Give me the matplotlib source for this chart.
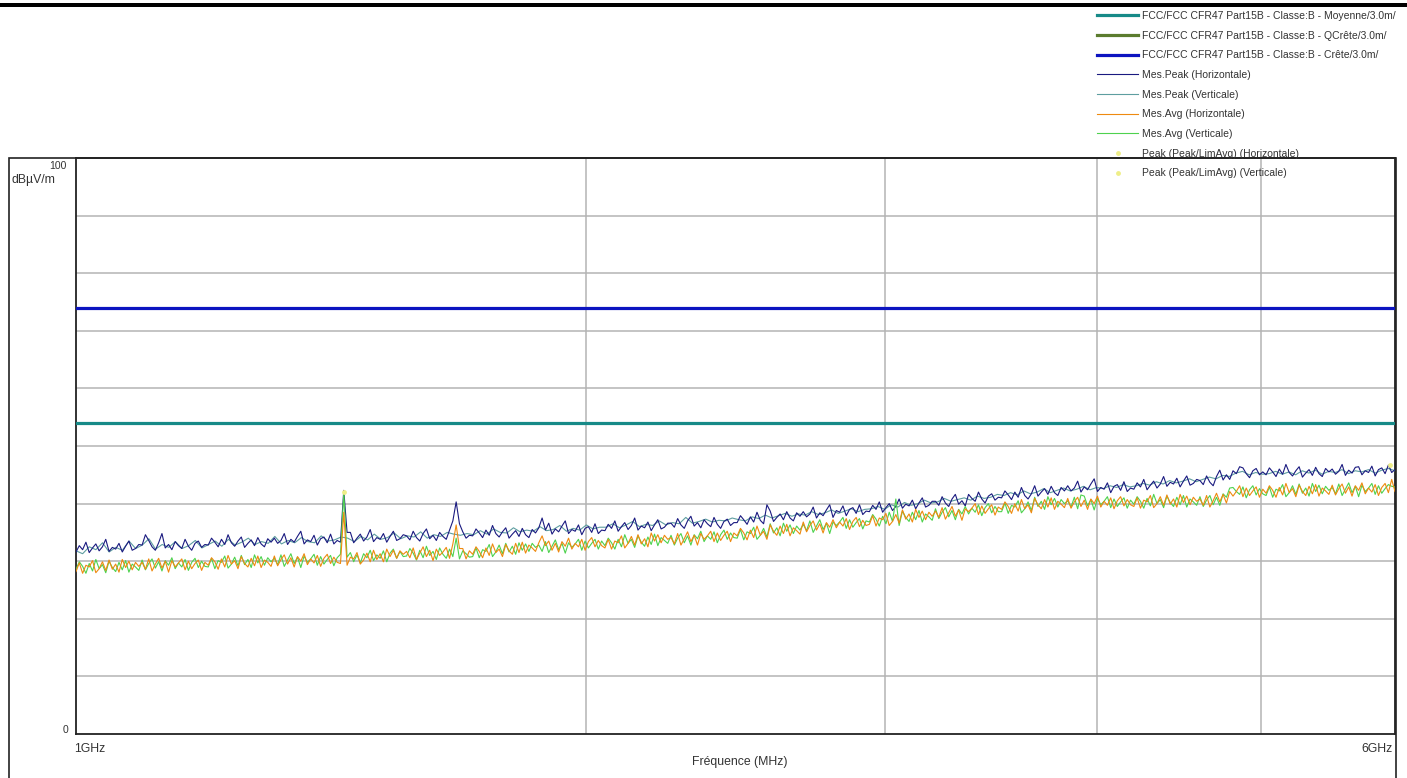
# emc_scan_1_6ghz.py
# ------------------------------------------------------------
# Radiated emission scan 1GHz - 6GHz, FCC Part15B class B limits
# (measurement values read off the receiver screenshot)
# ------------------------------------------------------------

import numpy as np
import matplotlib.pyplot as plt
from matplotlib.patches import Rectangle
from matplotlib.ticker import NullLocator


# -----------------------------
# Data
# -----------------------------
F_START = 1000.0   # MHz
F_STOP = 6000.0    # MHz

LIMIT_AVG = 54.0     # Moyenne
LIMIT_PEAK = 74.0    # Crête

PEAK_H = [
    31.6, 32.7, 32.0, 33.3, 31.5, 32.3, 33.0, 31.8, 32.5, 33.8, 31.7, 32.4, 32.1, 33.1, 31.6, 32.6, 33.5, 31.9, 32.2, 32.9,
    32.8, 34.6, 33.6, 32.5, 31.9, 33.2, 34.8, 32.3, 32.9, 32.0, 33.4, 32.7, 32.2, 33.8, 32.6, 31.9, 33.1, 33.5, 32.4, 32.9,
    32.8, 34.0, 33.3, 32.5, 33.8, 32.9, 34.6, 33.2, 32.6, 33.5, 34.2, 32.4, 33.1, 33.7, 32.7, 34.1, 33.0, 32.5, 33.9, 33.3,
    34.0, 33.1, 33.6, 34.8, 32.9, 33.8, 33.3, 34.3, 35.2, 33.0, 33.7, 33.4, 34.5, 32.8, 33.9, 34.2, 33.2, 34.7, 33.0, 33.6,
    33.3, 42.3, 35.0, 35.0, 33.2, 34.0, 34.7, 33.5, 34.2, 35.5, 33.4, 34.1, 33.8, 34.8, 33.3, 34.3, 35.2, 33.6, 33.9, 34.6,
    34.4, 33.7, 35.2, 34.1, 33.5, 34.8, 35.6, 33.9, 34.5, 33.6, 35.0, 34.3, 33.8, 35.4, 37.0, 40.3, 36.5, 35.1, 34.0, 34.5,
    34.4, 35.6, 34.9, 34.1, 35.4, 34.5, 36.2, 34.8, 34.2, 35.1, 35.8, 34.0, 34.7, 35.3, 34.3, 35.7, 34.6, 34.1, 35.5, 34.9,
    35.8, 37.5, 35.4, 36.6, 34.7, 35.6, 35.1, 36.1, 37.0, 34.8, 35.5, 35.2, 36.3, 34.6, 35.7, 36.0, 35.0, 36.5, 34.8, 35.4,
    35.3, 36.4, 35.7, 37.0, 35.2, 36.0, 36.7, 35.5, 36.2, 37.5, 35.4, 36.1, 35.8, 36.8, 35.3, 36.3, 37.2, 35.6, 35.9, 36.6,
    36.6, 35.9, 37.4, 36.3, 35.7, 37.0, 37.8, 36.1, 36.7, 35.8, 37.2, 36.5, 36.0, 37.6, 36.4, 35.7, 36.9, 37.3, 36.2, 36.7,
    36.7, 37.9, 37.2, 36.4, 37.7, 36.8, 38.5, 37.1, 36.5, 39.8, 38.7, 36.9, 37.6, 38.2, 37.2, 38.6, 37.5, 37.0, 38.4, 37.8,
    38.6, 37.7, 38.2, 39.4, 37.5, 38.4, 37.9, 38.9, 39.8, 37.6, 38.8, 38.5, 39.6, 37.9, 39.0, 39.3, 38.3, 39.8, 38.1, 38.7,
    38.6, 39.7, 39.0, 40.3, 38.5, 39.3, 40.0, 38.8, 39.5, 40.8, 39.2, 39.9, 39.6, 40.6, 39.1, 40.1, 41.0, 39.4, 39.7, 40.4,
    40.4, 39.7, 41.2, 40.1, 39.5, 40.8, 41.6, 39.9, 40.5, 39.6, 41.6, 40.9, 40.4, 42.0, 40.8, 40.1, 41.3, 41.7, 40.6, 41.1,
    41.0, 42.2, 41.5, 40.7, 42.0, 41.1, 42.8, 41.4, 40.8, 41.7, 43.1, 41.3, 42.0, 42.6, 41.6, 43.0, 41.9, 41.4, 42.8, 42.2,
    43.1, 42.2, 42.7, 43.9, 42.0, 42.9, 42.4, 43.4, 44.3, 42.1, 42.8, 42.5, 43.6, 41.9, 43.0, 43.3, 42.3, 43.8, 42.1, 42.7,
    42.5, 43.6, 42.9, 44.2, 42.4, 43.2, 43.9, 42.7, 43.4, 44.7, 43.0, 43.7, 43.4, 44.4, 42.9, 43.9, 44.8, 43.2, 43.5, 44.2,
    44.0, 43.3, 44.8, 43.7, 43.1, 44.7, 45.8, 44.1, 45.0, 44.2, 45.7, 45.2, 46.4, 46.2, 45.2, 44.5, 45.7, 46.1, 45.0, 45.5,
    45.0, 46.2, 45.5, 44.7, 46.0, 45.1, 46.8, 45.4, 44.8, 45.7, 46.4, 44.6, 45.3, 45.9, 44.9, 46.3, 45.2, 44.7, 46.1, 45.5,
    46.0, 45.1, 45.6, 46.8, 44.9, 45.8, 45.3, 46.3, 46.4, 45.0, 45.7, 45.4, 46.5, 44.8, 45.9, 46.2, 45.2, 46.7, 45.4, 45.9,
]

# vertical peak trace was only read at half the resolution (mostly hidden)
PEAK_V = [
    31.8, 31.3, 32.5, 32.0, 33.2, 31.6, 32.4, 31.9, 33.5, 32.2, 32.8, 33.9, 32.1, 32.9, 32.4, 33.4, 32.2, 32.7, 33.6, 32.3,
    32.9, 33.5, 32.6, 33.8, 32.8, 33.3, 34.0, 32.9, 33.4, 33.1, 34.3, 33.0, 33.6, 33.2, 34.1, 33.4, 33.2, 34.4, 33.5, 33.7,
    34.2, 34.0, 33.4, 34.3, 33.7, 34.7, 33.8, 34.1, 34.9, 33.9, 34.4, 34.2, 35.1, 34.0, 34.6, 34.3, 35.0, 34.7, 34.5, 34.8,
    34.6, 35.3, 34.7, 35.6, 35.0, 34.9, 35.8, 35.1, 35.4, 35.2, 36.0, 35.3, 35.5, 36.2, 35.2, 35.7, 35.4, 36.3, 35.6, 35.9,
    35.9, 36.5, 35.8, 36.3, 36.9, 36.0, 36.4, 36.2, 37.0, 36.3, 36.7, 36.5, 37.6, 36.6, 36.9, 37.3, 36.8, 37.1, 37.0, 37.5,
    37.2, 37.0, 37.7, 37.4, 38.0, 37.5, 37.9, 38.3, 37.8, 38.2, 38.0, 38.6, 38.1, 38.4, 38.9, 38.3, 38.7, 39.1, 38.6, 39.0,
    39.1, 39.5, 39.0, 39.8, 39.4, 40.2, 39.7, 40.0, 40.6, 40.1, 40.3, 40.9, 40.4, 40.7, 41.0, 40.6, 41.3, 40.9, 41.1, 41.6,
    41.4, 41.9, 41.5, 42.2, 41.7, 42.0, 42.6, 41.9, 42.3, 42.7, 42.2, 42.5, 43.0, 42.4, 42.8, 42.6, 43.1, 42.8, 43.3, 42.9,
    43.1, 43.5, 43.2, 43.8, 43.4, 44.0, 43.6, 43.9, 44.3, 43.8, 44.2, 44.6, 44.3, 44.9, 44.7, 45.3, 45.6, 45.0, 45.4, 45.1,
    45.2, 45.6, 45.1, 45.5, 45.0, 45.7, 45.3, 45.8, 45.1, 45.6, 45.4, 45.9, 45.2, 45.7, 45.5, 45.9, 45.3, 45.8, 46.1, 45.7,
]

AVG_H = [
    28.2, 29.7, 27.9, 29.3, 29.0, 30.1, 28.0, 28.7, 29.9, 28.4, 30.2, 28.6, 29.5, 28.1, 30.3, 28.9, 30.0, 28.5, 29.8, 29.1,
    29.8, 28.6, 30.4, 28.3, 29.5, 30.5, 28.8, 30.0, 28.1, 30.1, 29.0, 29.7, 30.4, 28.5, 30.0, 28.7, 29.6, 30.2, 28.4, 29.8,
    29.3, 30.6, 29.9, 28.6, 30.4, 29.0, 31.0, 29.5, 30.1, 28.7, 30.8, 29.6, 29.0, 30.5, 29.2, 30.9, 28.9, 30.2, 29.8, 29.1,
    30.9, 29.2, 30.3, 31.1, 29.5, 30.6, 29.0, 30.8, 30.0, 31.3, 29.4, 30.4, 29.7, 31.0, 29.1, 30.5, 31.2, 29.6, 30.7, 29.8,
    29.6, 38.5, 29.3, 30.7, 30.4, 31.5, 29.5, 30.2, 31.4, 29.9, 31.9, 30.3, 31.3, 29.9, 32.1, 30.8, 31.9, 30.5, 31.8, 31.2,
    31.7, 30.6, 32.3, 30.3, 31.4, 32.5, 30.8, 31.9, 30.1, 32.1, 31.0, 31.6, 32.4, 30.5, 33.0, 36.3, 32.2, 32.2, 30.4, 31.8,
    31.2, 32.5, 31.7, 30.6, 32.3, 31.0, 33.0, 31.5, 32.1, 30.8, 32.9, 31.8, 31.2, 33.1, 31.5, 33.3, 31.4, 32.8, 32.3, 31.7,
    33.2, 34.4, 32.7, 33.5, 31.9, 33.1, 31.6, 33.4, 32.6, 34.0, 32.1, 33.1, 32.5, 33.8, 31.9, 33.4, 34.1, 32.5, 33.6, 32.7,
    32.3, 33.8, 32.1, 33.5, 33.2, 34.4, 32.3, 33.1, 34.3, 32.8, 34.6, 33.0, 33.9, 32.5, 34.9, 33.5, 34.6, 33.2, 34.5, 33.8,
    34.1, 33.0, 34.8, 32.8, 33.9, 35.1, 33.4, 34.5, 32.8, 34.8, 33.8, 34.4, 35.2, 33.4, 34.9, 33.6, 34.5, 35.2, 33.4, 34.9,
    34.4, 35.7, 34.9, 33.7, 35.4, 34.1, 36.1, 34.5, 35.2, 33.8, 36.3, 35.2, 34.5, 36.1, 34.8, 36.4, 34.4, 35.8, 35.3, 34.7,
    36.8, 35.1, 36.2, 37.0, 35.4, 36.5, 34.9, 36.7, 35.9, 37.2, 35.8, 36.8, 36.1, 37.4, 35.5, 36.9, 37.6, 36.0, 37.1, 36.2,
    36.4, 37.9, 36.1, 37.5, 37.2, 38.3, 36.2, 36.9, 38.1, 36.6, 38.9, 37.3, 38.2, 36.8, 39.0, 37.6, 38.7, 37.2, 38.5, 37.8,
    38.7, 37.6, 39.3, 37.3, 38.4, 39.5, 37.8, 38.9, 37.1, 39.1, 38.6, 39.2, 40.0, 38.1, 39.6, 38.3, 39.1, 39.8, 38.0, 39.4,
    39.0, 40.3, 39.5, 38.3, 40.0, 38.7, 40.7, 39.1, 39.8, 38.4, 40.9, 39.8, 39.1, 40.7, 39.4, 41.0, 39.0, 40.4, 39.9, 39.3,
    40.9, 39.2, 40.3, 41.1, 39.5, 40.6, 39.0, 40.8, 40.0, 41.3, 39.4, 40.4, 39.7, 41.0, 39.1, 40.5, 41.2, 39.6, 40.7, 39.8,
    39.5, 41.0, 39.2, 40.6, 40.3, 41.4, 39.3, 40.0, 41.2, 39.7, 41.5, 39.9, 40.8, 39.4, 41.6, 40.2, 41.3, 39.8, 41.1, 40.4,
    40.8, 39.7, 41.4, 39.4, 40.5, 41.8, 40.3, 41.6, 40.1, 42.1, 41.3, 42.1, 43.1, 41.2, 42.7, 41.4, 42.2, 42.9, 41.1, 42.5,
    41.8, 43.1, 42.3, 41.1, 42.8, 41.5, 43.5, 41.9, 42.6, 41.2, 43.2, 42.1, 41.4, 43.0, 41.7, 43.3, 41.3, 42.7, 42.2, 41.6,
    43.2, 41.5, 42.6, 43.4, 41.8, 42.9, 41.3, 43.1, 42.3, 43.6, 41.7, 42.7, 42.0, 43.3, 41.4, 42.8, 43.5, 41.9, 44.2, 42.1,
]

AVG_V = [
    28.6, 29.9, 29.1, 27.9, 29.6, 28.3, 30.3, 28.7, 29.4, 28.0, 30.0, 28.9, 28.2, 29.8, 28.5, 30.1, 28.1, 29.5, 29.0, 28.4,
    30.2, 28.5, 29.6, 30.4, 28.8, 29.9, 28.3, 30.1, 29.3, 30.6, 28.7, 29.7, 29.0, 30.3, 28.4, 29.8, 30.5, 28.9, 30.0, 29.1,
    29.0, 30.5, 28.7, 30.1, 29.8, 30.9, 28.8, 29.5, 30.7, 29.2, 31.0, 29.4, 30.3, 28.9, 31.1, 29.7, 30.8, 29.3, 30.6, 29.9,
    30.5, 29.4, 31.1, 29.1, 30.2, 31.3, 29.6, 30.7, 28.9, 30.9, 29.8, 30.4, 31.2, 29.3, 30.8, 29.5, 30.3, 31.0, 29.2, 30.6,
    31.2, 41.8, 30.7, 31.5, 29.9, 31.1, 29.7, 31.3, 30.6, 31.9, 30.1, 31.1, 30.5, 31.8, 29.9, 31.4, 32.1, 30.5, 31.7, 30.8,
    30.9, 32.2, 31.4, 30.2, 31.9, 30.6, 32.6, 31.0, 31.7, 30.3, 32.3, 31.2, 30.5, 32.1, 30.8, 34.0, 30.4, 31.8, 31.3, 30.7,
    30.8, 32.3, 30.6, 32.0, 31.7, 32.9, 30.8, 31.6, 32.8, 31.3, 33.1, 31.6, 32.6, 31.2, 33.2, 31.9, 33.0, 31.7, 33.1, 32.4,
    32.8, 31.7, 33.4, 31.5, 32.6, 33.7, 32.0, 33.1, 31.4, 33.2, 32.4, 33.0, 33.8, 31.9, 33.5, 32.3, 33.1, 33.8, 32.1, 33.5,
    32.7, 34.0, 33.2, 32.1, 33.8, 32.5, 34.6, 33.1, 33.8, 32.4, 34.4, 33.3, 32.6, 34.2, 32.9, 34.7, 32.7, 34.1, 33.6, 33.1,
    34.5, 32.8, 34.0, 34.8, 33.2, 34.4, 32.8, 34.6, 33.9, 35.2, 33.4, 34.4, 33.8, 35.1, 33.2, 34.6, 35.4, 33.8, 34.9, 34.1,
    34.0, 35.5, 33.7, 35.1, 34.8, 35.9, 33.8, 34.5, 35.7, 34.2, 36.5, 34.9, 35.8, 34.4, 36.6, 35.2, 36.3, 34.8, 36.1, 35.4,
    36.4, 35.3, 37.0, 35.0, 36.1, 37.2, 35.5, 36.6, 34.8, 36.8, 36.2, 36.8, 37.6, 35.7, 37.2, 35.9, 36.7, 37.4, 35.6, 37.0,
    36.8, 38.1, 37.3, 36.1, 37.8, 36.5, 38.5, 36.9, 40.8, 36.2, 38.7, 37.6, 36.9, 38.5, 37.2, 38.8, 36.8, 38.2, 37.7, 37.1,
    39.1, 37.4, 38.5, 39.3, 37.7, 38.8, 37.2, 39.0, 38.2, 39.5, 38.2, 39.2, 38.5, 39.8, 37.9, 39.3, 40.0, 38.4, 39.5, 38.6,
    38.6, 40.1, 38.3, 39.7, 39.4, 40.5, 38.4, 39.1, 40.3, 38.8, 41.1, 39.5, 40.4, 39.0, 41.2, 39.8, 40.9, 39.4, 40.7, 40.0,
    40.5, 39.4, 41.1, 39.1, 41.5, 41.3, 39.6, 40.7, 38.9, 40.9, 39.8, 40.4, 41.2, 39.3, 40.8, 39.5, 40.3, 41.0, 39.2, 40.6,
    39.9, 41.2, 40.4, 39.2, 40.9, 39.6, 41.6, 40.0, 40.7, 39.3, 41.3, 40.2, 39.5, 41.1, 39.8, 41.4, 39.4, 40.8, 40.3, 39.7,
    41.2, 39.5, 40.6, 41.4, 39.8, 41.1, 39.7, 41.7, 41.1, 42.7, 42.8, 42.1, 41.6, 42.9, 41.0, 42.4, 43.1, 41.5, 42.6, 41.7,
    41.4, 42.9, 41.1, 42.5, 42.2, 43.3, 41.2, 41.9, 43.1, 41.6, 43.4, 41.8, 42.7, 41.3, 43.5, 42.1, 43.2, 41.7, 43.0, 42.3,
    42.8, 41.7, 43.4, 41.4, 42.5, 43.6, 41.9, 43.0, 41.2, 43.2, 42.1, 42.7, 43.5, 41.6, 43.1, 41.8, 42.6, 43.3, 43.0, 42.9,
]

# final peak markers (MHz, dBuV/m)
MARK_H_FREQ = [5960.0]
MARK_H_LEVEL = [46.7]
MARK_V_FREQ = [1440.0]
MARK_V_LEVEL = [42.0]

LEGEND_LABELS = [
    "FCC/FCC CFR47 Part15B - Classe:B - Moyenne/3.0m/",
    "FCC/FCC CFR47 Part15B - Classe:B - QCrête/3.0m/",
    "FCC/FCC CFR47 Part15B - Classe:B - Crête/3.0m/",
    "Mes.Peak (Horizontale)",
    "Mes.Peak (Verticale)",
    "Mes.Avg (Horizontale)",
    "Mes.Avg (Verticale)",
    "Peak (Peak/LimAvg) (Horizontale)",
    "Peak (Peak/LimAvg) (Verticale)",
]

W, H = 1407, 778
TXT = "#333333"

plt.rcParams["font.family"] = ["Liberation Sans", "DejaVu Sans"]


def px(x, y):
    """pixel (from top-left) -> figure fraction"""
    return x / W, 1 - y / H


def main():
    for name, arr in [("PEAK_H", PEAK_H), ("AVG_H", AVG_H), ("AVG_V", AVG_V)]:
        assert len(arr) == 400, f"{name} has {len(arr)} points"
    assert len(PEAK_V) == 200, f"PEAK_V has {len(PEAK_V)} points"

    fig = plt.figure(figsize=(W / 100, H / 100), dpi=100)

    # thick bar along the top + outer frame
    fig.add_artist(Rectangle(px(0, 7), 1, 4 / H, transform=fig.transFigure,
                             facecolor="black", edgecolor="none"))
    fig.add_artist(Rectangle((9 / W, -0.1), (1396 - 9) / W, 0.1 + (H - 158) / H,
                             transform=fig.transFigure, facecolor="none",
                             edgecolor="#222222", linewidth=1.2))

    ax = fig.add_axes([76 / W, (H - 734) / H, 1319 / W, 576 / H])

    freq = np.geomspace(F_START, F_STOP, len(PEAK_H))
    freq_v = np.geomspace(F_START, F_STOP, len(PEAK_V))

    l_avg = ax.axhline(LIMIT_AVG, color="#178a88", lw=2.3, zorder=3)
    l_qp, = ax.plot([], [], color="#5b7c2e", lw=2.3)
    l_pk = ax.axhline(LIMIT_PEAK, color="#0c14c0", lw=2.3, zorder=3)

    p_v, = ax.plot(freq_v, PEAK_V, color="#5e9ea0", lw=0.8, zorder=4)
    p_h, = ax.plot(freq, PEAK_H, color="#1a1a80", lw=0.8, zorder=5)
    a_v, = ax.plot(freq, AVG_V, color="#4ed24e", lw=0.8, zorder=6)
    a_h, = ax.plot(freq, AVG_H, color="#ee8a10", lw=0.8, zorder=6)

    m_h, = ax.plot(MARK_H_FREQ, MARK_H_LEVEL, "o", color="#eeee88", ms=3.5,
                   mec="none", zorder=7)
    m_v, = ax.plot(MARK_V_FREQ, MARK_V_LEVEL, "o", color="#eeee88", ms=3.5,
                   mec="none", zorder=7)

    ax.set_xscale("log")
    ax.set_xlim(F_START, F_STOP)
    ax.set_ylim(0, 100)

    ax.set_xticks([2000, 3000, 4000, 5000])
    ax.set_yticks(np.arange(10, 100, 10))
    ax.xaxis.set_minor_locator(NullLocator())
    ax.tick_params(length=0, labelbottom=False, labelleft=False)
    ax.grid(True, color="#b4b4b4", lw=1.1)
    ax.set_axisbelow(True)

    for side in ["left", "bottom", "right", "top"]:
        ax.spines[side].set_color("#222222")
        ax.spines[side].set_linewidth(1.3)

    # axis texts, placed like the receiver software does
    fig.text(*px(67, 166), "100", ha="right", va="center", fontsize=7.5, color=TXT)
    fig.text(*px(11, 180), "dBµV/m", ha="left", va="center", fontsize=8.8, color=TXT)
    fig.text(*px(68, 730), "0", ha="right", va="center", fontsize=7.5, color=TXT)
    fig.text(*px(74, 749), "1GHz", ha="left", va="center", fontsize=8.8, color=TXT)
    fig.text(*px(1393, 749), "6GHz", ha="right", va="center", fontsize=8.8, color=TXT)
    fig.text(*px(740, 762), "Fréquence (MHz)", ha="center", va="center",
             fontsize=8.8, color=TXT)

    handles = [l_avg, l_qp, l_pk, p_h, p_v, a_h, a_v, m_h, m_v]
    leg = fig.legend(handles, LEGEND_LABELS, loc="upper left",
                     bbox_to_anchor=px(1097, 11), frameon=False, fontsize=7.5,
                     handlelength=3.95, handletextpad=0.35, labelspacing=0.93,
                     borderpad=0, borderaxespad=0, markerscale=1.0)
    for t in leg.get_texts():
        t.set_color(TXT)

    plt.savefig("out.png", dpi=100)
    plt.close(fig)


if __name__ == "__main__":
    main()
